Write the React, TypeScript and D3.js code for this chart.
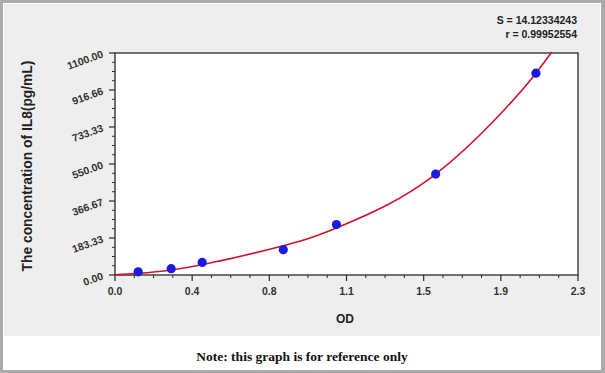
import React from "react";
import * as d3 from "d3";

const odValues = [0.115, 0.279, 0.433, 0.836, 1.1, 1.593, 2.091];
const concValues = [15.6, 31.25, 62.5, 125, 250, 500, 1000];
const curveOD = [0, 0.115, 0.279, 0.433, 0.523, 0.836, 0.921, 1.1, 1.593, 1.886, 2.091, 2.17];
const curveConc = [1, 8, 25, 51, 70, 145, 168, 233, 500, 768, 1000, 1105];
const xTickValues = [0, 0.3833, 0.7667, 1.15, 1.5333, 1.9167, 2.3];
const xTickLabels = ["0.0", "0.4", "0.8", "1.1", "1.5", "1.9", "2.3"];
const yTickValues = [0, 183.33, 366.67, 550, 733.33, 916.66, 1100];
const yTickLabels = ["0.00", "183.33", "366.67", "550.00", "733.33", "916.66", "1100.00"];
const statLines = ["S = 14.12334243", "r = 0.99952554"];

export default function App() {
  const W = 605, H = 373;
  const left = 115, right = 578, top = 53, bottom = 275;
  const x = d3.scaleLinear().domain([0, 2.3]).range([left, right]);
  const y = d3.scaleLinear().domain([0, 1100]).range([bottom, top]);
  const line = d3
    .line<number>()
    .x((_, i) => x(curveOD[i]))
    .y((d) => y(d))
    .curve(d3.curveMonotoneX);
  const minorX: number[] = [];
  for (let i = 0; i < xTickValues.length - 1; i++) {
    const a = xTickValues[i], b = xTickValues[i + 1];
    for (let k = 1; k < 4; k++) minorX.push(a + ((b - a) * k) / 4);
  }
  const minorY: number[] = [];
  for (let i = 0; i < yTickValues.length - 1; i++) {
    const a = yTickValues[i], b = yTickValues[i + 1];
    for (let k = 1; k < 4; k++) minorY.push(a + ((b - a) * k) / 4);
  }
  const axisColor = "#2a2a2a";
  const font = "Liberation Sans, Arial, sans-serif";
  return (
    <svg
      width={W}
      height={H}
      style={{ position: "absolute", left: 0, top: 0, display: "block" }}
    >
      <rect x={0} y={0} width={W} height={H} fill="#ababab" />
      <rect x={3} y={3} width={598} height={367} fill="#ffffff" />
      <rect x={4} y={4} width={596} height={332} fill="#eeeeee" />
      <rect x={left} y={top} width={right - left} height={bottom - top} fill="#ffffff" />
      <defs>
        <clipPath id="clip">
          <rect x={left - 4} y={top - 2} width={right - left + 4} height={bottom - top + 4} />
        </clipPath>
      </defs>
      {statLines.map((s, i) => (
        <text
          key={s}
          x={577}
          y={24 + i * 14}
          textAnchor="end"
          fontFamily={font}
          fontSize={10.5}
          fontWeight="bold"
          fill="#222"
        >
          {s}
        </text>
      ))}
      <rect
        x={left}
        y={top}
        width={right - left}
        height={bottom - top}
        fill="none"
        stroke={axisColor}
        strokeWidth={1.3}
      />
      {xTickValues.map((v, i) => (
        <g key={"xt" + i}>
          <line x1={x(v)} x2={x(v)} y1={bottom} y2={bottom + 6} stroke={axisColor} strokeWidth={1.2} />
          <text
            x={x(v)}
            y={bottom + 20}
            textAnchor="middle"
            fontFamily={font}
            fontSize={10.5}
            fontWeight="bold"
            fill="#333"
          >
            {xTickLabels[i]}
          </text>
        </g>
      ))}
      {minorX.map((v, i) => (
        <line key={"mx" + i} x1={x(v)} x2={x(v)} y1={bottom} y2={bottom + 3} stroke={axisColor} strokeWidth={1} />
      ))}
      {yTickValues.map((v, i) => (
        <g key={"yt" + i}>
          <line x1={left - 6} x2={left} y1={y(v)} y2={y(v)} stroke={axisColor} strokeWidth={1.2} />
          <text
            transform={`translate(${left - 11},${y(v) + 4}) rotate(-20)`}
            textAnchor="end"
            fontFamily={font}
            fontSize={10.5}
            fontWeight="bold"
            fill="#333"
          >
            {yTickLabels[i]}
          </text>
        </g>
      ))}
      {minorY.map((v, i) => (
        <line key={"my" + i} x1={left - 3} x2={left} y1={y(v)} y2={y(v)} stroke={axisColor} strokeWidth={1} />
      ))}
      <g clipPath="url(#clip)">
        <path d={line(curveConc) || ""} fill="none" stroke="#d3112e" strokeWidth={1.6} />
      </g>
      {odValues.map((v, i) => (
        <circle key={"p" + i} cx={x(v)} cy={y(concValues[i])} r={4.6} fill="#1a1ae0" />
      ))}
      <text
        transform={`translate(32,${(top + bottom) / 2 + 2}) rotate(-90)`}
        textAnchor="middle"
        fontFamily={font}
        fontSize={13.8}
        fontWeight="bold"
        fill="#222"
      >
        The concentration of IL8(pg/mL)
      </text>
      <text
        x={345}
        y={323}
        textAnchor="middle"
        fontFamily={font}
        fontSize={12}
        fontWeight="bold"
        fill="#222"
      >
        OD
      </text>
      <text
        x={302}
        y={361}
        textAnchor="middle"
        fontFamily="Liberation Serif, Times New Roman, serif"
        fontSize={13.5}
        fontWeight="bold"
        fill="#111"
      >
        Note: this graph is for reference only
      </text>
    </svg>
  );
}
